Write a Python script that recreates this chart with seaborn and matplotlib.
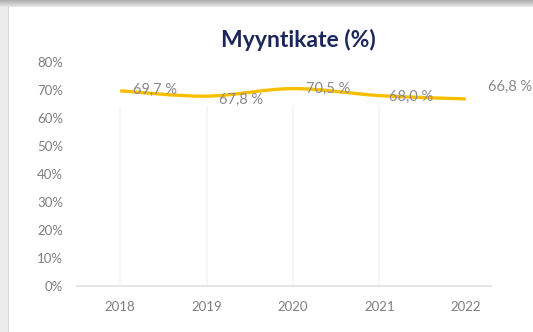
import numpy as np
import pandas as pd
import matplotlib
matplotlib.use("Agg")
import matplotlib.pyplot as plt
from matplotlib.patches import Rectangle, PathPatch
from matplotlib.path import Path
from matplotlib.ticker import FuncFormatter
import seaborn as sns

# Gross margin per year
years = ["2018", "2019", "2020", "2021", "2022"]
margin_pct = [69.7, 67.8, 70.5, 68.0, 66.8]
y_ticks = [0, 10, 20, 30, 40, 50, 60, 70, 80]

df = pd.DataFrame({"year": years, "margin": margin_pct})

sns.set_theme(style="white")
plt.rcParams["font.family"] = ["Lato", "DejaVu Sans"]

W, H = 533, 332
fig = plt.figure(figsize=(W / 100, H / 100), dpi=100)
fig.patch.set_facecolor("#ececec")

# card background with a soft grey top band
fig.patches.append(Rectangle((9 / W, 0), 1 - 9 / W, 1 - 7 / H,
                             transform=fig.transFigure, facecolor="white",
                             edgecolor="none", zorder=-2))
fig.patches.append(Rectangle((8 / W, 0), 1 / W, 1 - 7 / H,
                             transform=fig.transFigure, facecolor="#d6d6d6",
                             edgecolor="none", zorder=-2))
band = fig.add_axes([0, 1 - 7 / H, 1, 7 / H])
grad = np.linspace(0, 1, 7)[:, None] * np.ones((1, 50))
band.imshow(grad, cmap=matplotlib.colors.LinearSegmentedColormap.from_list(
    "band", ["#b0b0b0", "#e4e4e4"]), aspect="auto", extent=[0, 1, 0, 1])
band.axis("off")

ax = fig.add_axes([77 / W, 1 - 286 / H, (509 - 77) / W, (286 - 62) / H])
ax.set_facecolor("none")
ax.set_zorder(2)

sns.lineplot(data=df, x="year", y="margin", ax=ax, color="#F8BF00",
             linewidth=2.4, sort=False)

# turn the straight polyline into a smooth Bezier curve through the same points
line = ax.lines[0]
xs = np.asarray(line.get_xdata(), dtype=float)
ys = np.asarray(line.get_ydata(), dtype=float)
verts = [(xs[0], ys[0])]
codes = [Path.MOVETO]
n = len(xs)
for i in range(n - 1):
    p0 = np.array([xs[max(i - 1, 0)], ys[max(i - 1, 0)]])
    p1 = np.array([xs[i], ys[i]])
    p2 = np.array([xs[i + 1], ys[i + 1]])
    p3 = np.array([xs[min(i + 2, n - 1)], ys[min(i + 2, n - 1)]])
    c1 = p1 + (p2 - p0) / 6
    c2 = p2 - (p3 - p1) / 6
    verts += [tuple(c1), tuple(c2), tuple(p2)]
    codes += [Path.CURVE4] * 3
line.set_visible(False)
ax.add_patch(PathPatch(Path(verts, codes), facecolor="none",
                       edgecolor="#F8BF00", linewidth=2.4, zorder=3,
                       capstyle="butt"))

# faint column separators
for i in range(4):
    ax.axvline(i, ymin=0, ymax=0.8, color="#f4f4f4", linewidth=1.2, zorder=0)

# value labels to the right of each point
offsets = [(25, 1), (25, -3), (25, 0), (23, -1), (32, 9)]
for i, (v, (dx, dy)) in enumerate(zip(margin_pct, offsets)):
    label = f"{v:.1f} %".replace(".", ",")
    ax.annotate(label, (i, v), xytext=(dx, dy), textcoords="offset points",
                ha="center", va="center", fontsize=10.5, color="#8a8a8a",
                zorder=4, annotation_clip=False)

ax.set_xlim(-0.5, 4.5)
ax.set_ylim(0, 80)
ax.set_yticks(y_ticks)
ax.yaxis.set_major_formatter(FuncFormatter(lambda v, _: f"{v:.0f}%"))
ax.set_xlabel("")
ax.set_ylabel("")
ax.tick_params(axis="both", length=0, labelsize=9.5, labelcolor="#7f7f7f")
ax.tick_params(axis="y", pad=10)
ax.tick_params(axis="x", pad=11)
for s in ["top", "right", "left"]:
    ax.spines[s].set_visible(False)
ax.spines["bottom"].set_color("#e2e2e2")
ax.spines["bottom"].set_bounds(-0.5, 4.29)
ax.grid(False)

fig.text(298 / W, 1 - 40 / H, "Myyntikate (%)", ha="center", va="center",
         fontsize=16.5, fontweight="bold", color="#1c2759")

fig.savefig("out.png", dpi=100)
